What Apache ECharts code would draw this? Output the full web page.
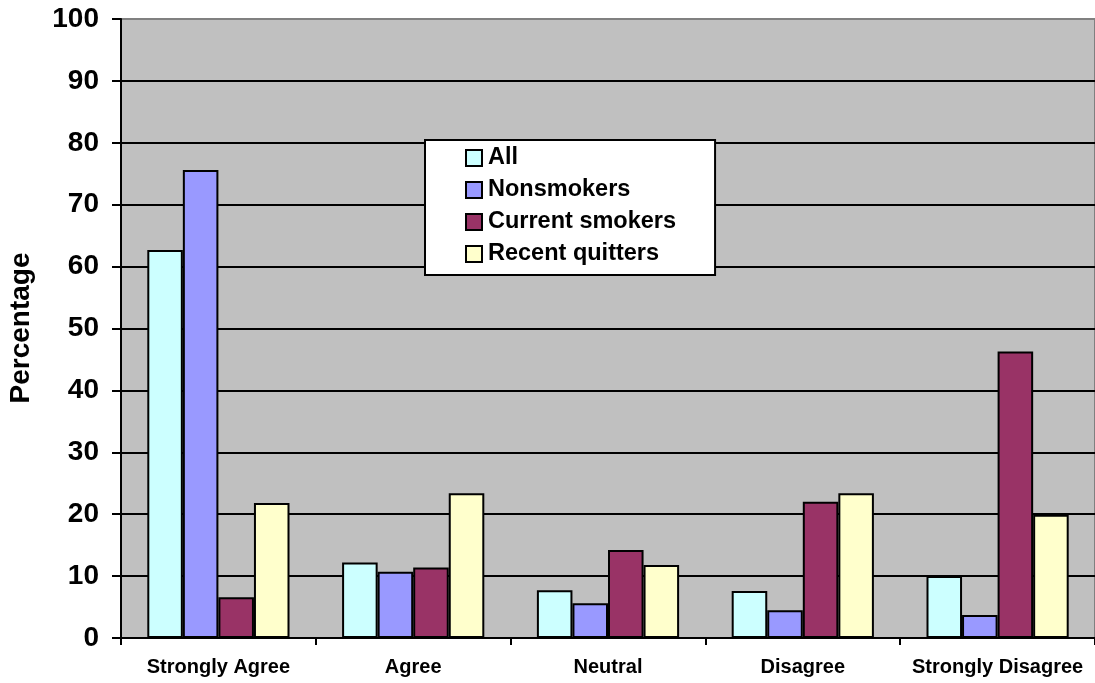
<!DOCTYPE html>
<html>
<head>
<meta charset="utf-8">
<title>Percentage by response</title>
<script src="https://cdn.jsdelivr.net/npm/echarts@6/dist/echarts.min.js"></script>
<style>
    html, body { margin: 0; padding: 0; background: #fff; }
    #main { width: 1095px; height: 683px; }
</style>
</head>
<body>
<div id="main"></div>
<script>
// categories and series
var categories = ['Strongly Agree', 'Agree', 'Neutral', 'Disagree', 'Strongly Disagree'];
var seriesNames = ['All', 'Nonsmokers', 'Current smokers', 'Recent quitters'];
var allData = [62.7, 12.2, 7.7, 7.6, 10.0];
var nonsmokersData = [75.6, 10.7, 5.6, 4.5, 3.7];
var currentData = [6.6, 11.4, 14.2, 22.0, 46.3];
var quittersData = [21.8, 23.4, 11.8, 23.4, 19.9];
var yTicks = [0, 10, 20, 30, 40, 50, 60, 70, 80, 90, 100];

var FONT = '"Liberation Sans", Arial, sans-serif';
var colors = ['#CCFFFF', '#9999FF', '#993366', '#FFFFCC'];
var values = [allData, nonsmokersData, currentData, quittersData];

var myChart = echarts.init(document.getElementById('main'));

var series = seriesNames.map(function (name, i) {
    return {
        name: name,
        type: 'bar',
        barGap: '0%',
        barCategoryGap: '27%',
        itemStyle: {
            color: colors[i],
            borderColor: '#000',
            borderWidth: 2
        },
        data: values[i]
    };
});

var option = {
    animation: false,
    color: colors,
    textStyle: { fontFamily: FONT },
    grid: {
        left: 121,
        top: 19,
        width: 977,
        height: 619,
        show: true,
        backgroundColor: '#C0C0C0',
        borderColor: '#808080',
        borderWidth: 2
    },
    // legend box in the middle of the plot
    legend: {
        orient: 'vertical',
        left: 425,
        top: 140,
        padding: [6, 39, 9, 40],
        itemGap: 8,
        itemWidth: 16,
        itemHeight: 16,
        backgroundColor: '#fff',
        borderColor: '#000',
        borderWidth: 2,
        icon: 'rect',
        itemStyle: { borderColor: '#000', borderWidth: 2 },
        textStyle: { fontFamily: FONT, fontWeight: 'bold', fontSize: 23.5, color: '#000', padding: [0, 0, 0, 1] },
        data: seriesNames
    },
    xAxis: {
        type: 'category',
        data: categories,
        axisLine: { lineStyle: { color: '#000', width: 2 } },
        axisTick: { show: true, length: 7, lineStyle: { color: '#000', width: 2 } },
        axisLabel: { interval: 0, fontFamily: FONT, fontWeight: 'bold', fontSize: 20, color: '#000', margin: 19 }
    },
    yAxis: {
        type: 'value',
        min: yTicks[0],
        max: yTicks[yTicks.length - 1],
        interval: 10,
        axisLine: { show: true, lineStyle: { color: '#000', width: 2 } },
        axisTick: { show: true, length: 9, lineStyle: { color: '#000', width: 2 } },
        axisLabel: { fontFamily: FONT, fontWeight: 'bold', fontSize: 28, color: '#000', margin: 22 },
        splitLine: { show: true, showMaxLine: false, lineStyle: { color: '#000', width: 2 } }
    },
    // y axis title
    graphic: [{
        type: 'text',
        x: 21,
        y: 328,
        rotation: Math.PI / 2,
        style: {
            text: 'Percentage',
            font: 'bold 28px ' + FONT,
            fill: '#000',
            align: 'center',
            verticalAlign: 'middle'
        }
    }],
    series: series
};

myChart.setOption(option);
</script>
</body>
</html>
